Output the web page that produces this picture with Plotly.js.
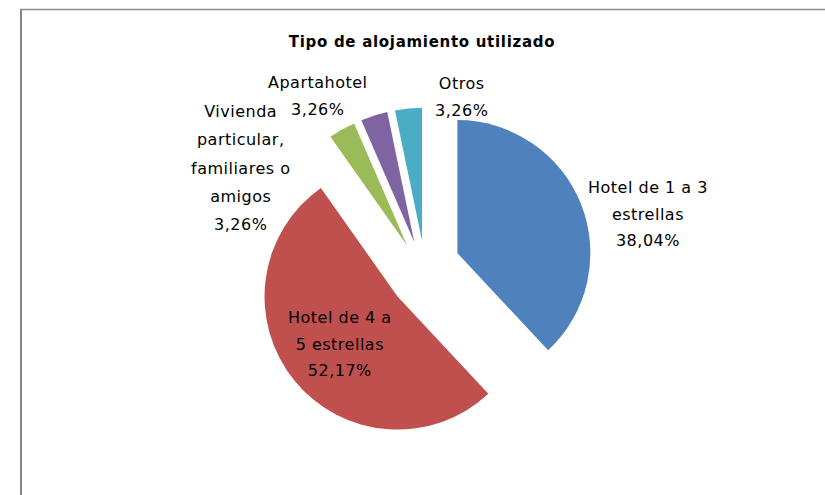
<!DOCTYPE html>
<html>
<head>
<meta charset="utf-8">
<script src="https://cdn.plot.ly/plotly-3.0.1.min.js"></script>
<style>
html, body { margin: 0; padding: 0; background: #ffffff; }
#chart { width: 825px; height: 495px; }
.annotation-text { letter-spacing: 0.5px; }
.gtitle { letter-spacing: 0.7px; }
</style>
</head>
<body>
<div id="chart"></div>
<script>
// ---- data ----
const categories = [
  'Hotel de 1 a 3 estrellas',
  'Hotel de 4 a 5 estrellas',
  'Vivienda particular, familiares o amigos',
  'Apartahotel',
  'Otros'
];
const labelLines = [
  ['Hotel de 1 a 3', 'estrellas'],
  ['Hotel de 4 a', '5 estrellas'],
  ['Vivienda', 'particular,', 'familiares o', 'amigos'],
  ['Apartahotel'],
  ['Otros']
];
const percentages = [38.04, 52.17, 3.26, 3.26, 3.26];
const titleText = 'Tipo de alojamiento utilizado';

// ---- styles / layout geometry ----
const colors = ['#4F81BD', '#C0504D', '#9BBB59', '#8064A2', '#4BACC6'];
const W = 825, H = 495;
const R = 133;
const groups = [
  { cx: 445, cy: 258, pulls: [0.10, 0.46, 0, 0, 0], show: [true, true, false, false, false] },
  { cx: 426, cy: 279, pulls: [0, 0, 0.29, 0.29, 0.29], show: [false, false, true, true, true] }
];
// label block centres (px) and line spacing (px)
const labelPos = [
  [648, 214, 26.5],
  [340, 343.5, 26.5],
  [240, 168, 28.3],
  [317.5, 95.5, 27],
  [461, 96.5, 27]
];
const textSize = 16;

function domainFor(g) {
  const half = R * (1 + Math.max(...g.pulls));
  return {
    x: [(g.cx - half) / W, (g.cx + half) / W],
    y: [1 - (g.cy + half) / H, 1 - (g.cy - half) / H]
  };
}

const traces = groups.map(g => ({
  type: 'pie',
  labels: categories,
  values: percentages,
  sort: false,
  direction: 'clockwise',
  rotation: 0,
  pull: g.pulls,
  domain: domainFor(g),
  marker: {
    colors: colors.map((c, i) => g.show[i] ? c : 'rgba(0,0,0,0)'),
    line: { width: 0 }
  },
  textinfo: 'none',
  hoverinfo: 'label+percent',
  showlegend: false
}));

function pctText(v) {
  return v.toFixed(2).replace('.', ',') + '%';
}

const annotations = categories.map((c, i) => {
  const lines = labelLines[i].concat([pctText(percentages[i])]);
  const p = labelPos[i];
  return {
    xref: 'paper', yref: 'paper',
    x: p[0] / W, y: 1 - p[1] / H,
    xanchor: 'center', yanchor: 'middle',
    align: 'center',
    showarrow: false,
    text: lines.map(l => '<span style="font-size:' + textSize + 'px">' + l + '</span>').join('<br>'),
    font: { family: 'DejaVu Sans', size: p[2] / 1.3, color: '#000000' }
  };
});

const borderColor = '#878787';
const shapes = [
  { type: 'line', xref: 'paper', yref: 'paper', x0: 21 / W, x1: 21 / W, y0: -0.05, y1: 1 - 9.5 / H,
    line: { color: borderColor, width: 2 } },
  { type: 'line', xref: 'paper', yref: 'paper', x0: 20 / W, x1: 1.05, y0: 1 - 9.5 / H, y1: 1 - 9.5 / H,
    line: { color: borderColor, width: 1.5 } }
];

const layout = {
  width: W, height: H,
  margin: { l: 0, r: 0, t: 0, b: 0 },
  paper_bgcolor: '#ffffff',
  plot_bgcolor: '#ffffff',
  showlegend: false,
  title: {
    text: titleText,
    x: 422 / W, xanchor: 'center', xref: 'container',
    y: 1 - 42 / H, yanchor: 'middle', yref: 'container',
    font: { family: 'DejaVu Sans', size: 15, weight: 'bold', color: '#000000' }
  },
  annotations: annotations,
  shapes: shapes
};

Plotly.newPlot('chart', traces, layout, { staticPlot: true, displayModeBar: false });
</script>
</body>
</html>
